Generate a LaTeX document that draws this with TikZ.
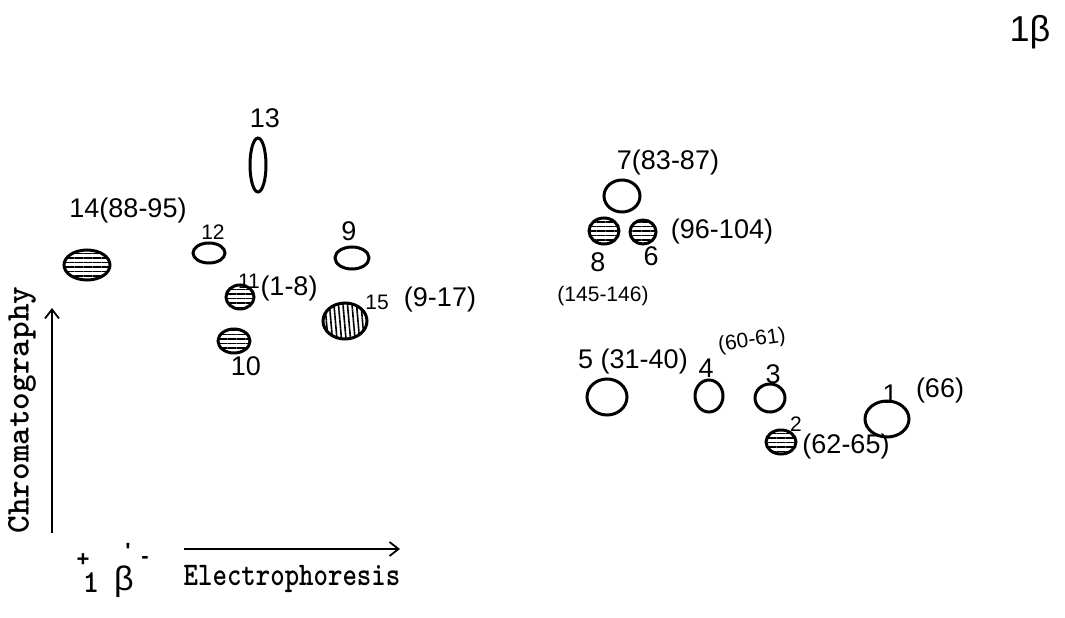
\documentclass[tikz,border=0pt]{standalone}
\usepackage{fontspec}
\newfontfamily\handfont{Liberation Sans}
\usetikzlibrary{shapes.geometric,patterns.meta,arrows.meta}
\begin{document}
\begin{tikzpicture}[x=1pt,y=-1pt,
  spot/.style={draw, ellipse, line width=3pt, inner sep=0pt},
  hspot/.style={spot, pattern={Lines[angle=0,distance=4.5pt,line width=1.6pt]}},
  vspot/.style={spot, pattern={Lines[angle=95,distance=4.5pt,line width=1.6pt]}},
  hand/.style={font=\handfont\fontsize{27}{29}\selectfont, inner sep=0pt},
  handsm/.style={font=\handfont\fontsize{21}{23}\selectfont, inner sep=0pt},
  tw/.style={font=\ttfamily\bfseries\fontsize{27.5}{30}\selectfont, inner sep=0pt},
  signmark/.style={font=\handfont\bfseries\fontsize{22}{24}\selectfont, inner sep=0pt},
  axis/.style={line width=1.8pt, -{Straight Barb[length=9pt,width=14pt,line width=1.8pt]}}]
\useasboundingbox (0,0) rectangle (1065,618);
% spots
\node[spot, minimum width=16, minimum height=54] (s13) at (258,165) {};
\node[hspot, minimum width=46, minimum height=30] (s14) at (87,265) {};
\node[spot, minimum width=32, minimum height=20] (s12) at (209,253) {};
\node[hspot, minimum width=28, minimum height=24] (s11) at (240,297) {};
\node[hspot, minimum width=32, minimum height=24] (s10) at (234,341) {};
\node[spot, minimum width=34, minimum height=22] (s9) at (352,258) {};
\node[vspot, minimum width=44, minimum height=36] (s15) at (345,321) {};
\node[spot, minimum width=36, minimum height=32] (s7) at (622,196) {};
\node[hspot, minimum width=30, minimum height=26] (s8) at (604,231) {};
\node[hspot, minimum width=26, minimum height=24] (s6) at (643,232) {};
\node[spot, minimum width=40, minimum height=36] (s5) at (607,397) {};
\node[spot, minimum width=28, minimum height=32] (s4) at (709,396) {};
\node[spot, minimum width=30, minimum height=28] (s3) at (770,398) {};
\node[spot, minimum width=44, minimum height=36] (s1) at (887,419) {};
\node[hspot, minimum width=30, minimum height=24] (s2) at (781,442) {};
% labels
\node[hand] (l13) at (265,118) {13};
\node[hand] (l14) at (128,211) {14(88-95)};
\node[handsm] (l12) at (213,232) {12};
\node[handsm] (l11a) at (249,281) {11};
\node[hand] (l11b) at (289,289) {(1-8)};
\node[hand] (l10) at (246,366) {10};
\node[hand] (l9) at (349,231) {9};
\node[handsm] (l15a) at (377,302) {15};
\node[hand] (l15b) at (440,300) {(9-17)};
\node[hand] (l7) at (668,163) {7(83-87)};
\node[hand] (l8) at (598,262) {8};
\node[handsm] (l8b) at (603,296) {(145-146)};
\node[hand] (l6) at (651,256) {6};
\node[hand] (l6b) at (722,232) {(96-104)};
\node[hand] (l5) at (633,362) {5 (31-40)};
\node[hand] (l4) at (706,368) {4};
\node[handsm, rotate=8] (l4b) at (752,341) {(60-61)};
\node[hand] (l3) at (773,374) {3};
\node[hand] (l1) at (890,394) {1};
\node[hand] (l1b) at (940,391) {(66)};
\node[handsm] (l2) at (796,424) {2};
\node[hand] (l2b) at (846,447) {(62-65)};
% corner mark
\node[hand, font=\handfont\fontsize{36}{38}\selectfont] (corner) at (1030,32) {1β};
% axes
\coordinate (cyA) at (52,533);
\coordinate (cyB) at (52,308);
\draw[axis] (cyA) -- (cyB);
\node[tw, rotate=90] (chrom) at (22,410) {\scalebox{1.22}[1.2]{Chromatography}};
\coordinate (exA) at (184,549);
\coordinate (exB) at (400,549);
\draw[axis] (exA) -- (exB);
\node[tw] (elec) at (292,579) {\scalebox{1}[1.2]{Electrophoresis}};
% 1 beta sample mark
\node[tw, font=\ttfamily\bfseries\fontsize{32}{34}\selectfont] (one) at (91,583) {1};
\node[hand, font=\handfont\fontsize{34}{36}\selectfont] (beta) at (124,582) {β};
\node[signmark] (plus) at (83,560) {+};
\node[signmark] (minus) at (145,560) {-};
\node[signmark] (tick) at (128,551) {'};
\end{tikzpicture}
\end{document}
